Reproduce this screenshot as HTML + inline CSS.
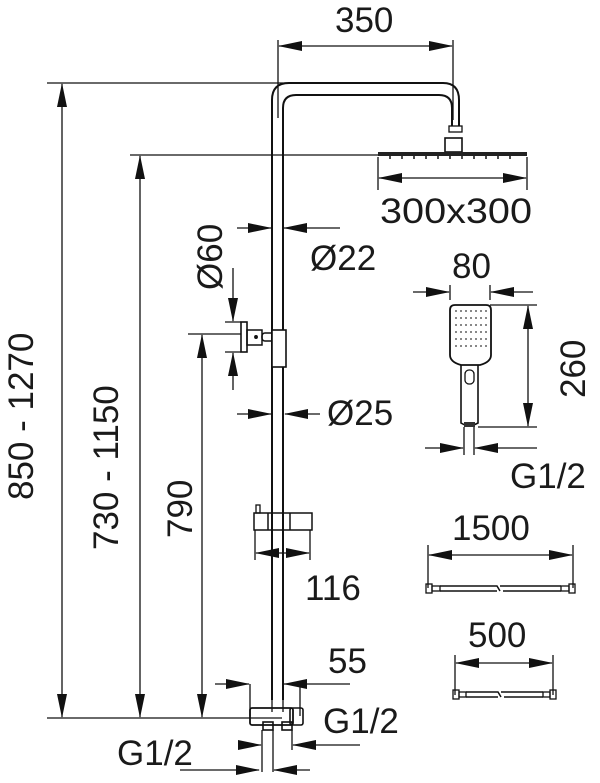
<!DOCTYPE html>
<html><head><style>body{margin:0;background:#fff}svg{display:block}text{font-family:"Liberation Sans",sans-serif;fill:#1a1a1a;font-size:35px}</style></head>
<body>
<svg width="600" height="783" viewBox="0 0 600 783" xmlns="http://www.w3.org/2000/svg">
<defs>
<marker id="a" markerWidth="24" markerHeight="10" refX="23" refY="5" orient="auto" markerUnits="userSpaceOnUse"><path d="M0,0 L24,5 L0,10 Z" fill="#111"/></marker>
</defs>
<g stroke="#111" fill="none" stroke-width="1.3">
<path d="M272,700 V100 Q272,83 289,83 H443 Q459,83 459,100 V126" stroke-width="2"/>
<path d="M283,700 V108 Q283,95 296,95 H439 Q452,95 452,108 V126" stroke-width="2"/>
<rect x="449" y="126" width="13" height="6"/>
<rect x="445" y="138" width="17" height="14" stroke-width="1.6"/>
<rect x="378" y="152" width="149" height="4" fill="#222" stroke="none"/>
<path d="M390,156v3M402,156v3M414,156v3M426,156v3M438,156v3M450,156v3M462,156v3M474,156v3M486,156v3M498,156v3M510,156v3" stroke-width="1.5"/>
<path d="M278,40 V118 M453,40 V120"/>
<path d="M365,46 H279" marker-end="url(#a)"/><path d="M365,46 H452" marker-end="url(#a)"/>
<path d="M378,157 V190 M527,157 V190"/>
<path d="M452,178 H379" marker-end="url(#a)"/><path d="M452,178 H526" marker-end="url(#a)"/>
<path d="M237,228 H271" marker-end="url(#a)"/><path d="M340,228 H284" marker-end="url(#a)"/>
<path d="M47,83 H292 M130,155 H378 M47,718 H282"/>
<path d="M62,400 V84" marker-end="url(#a)"/><path d="M62,400 V717" marker-end="url(#a)"/>
<path d="M140,430 V156" marker-end="url(#a)"/><path d="M140,430 V717" marker-end="url(#a)"/>
<path d="M188,334 H241"/>
<path d="M202,520 V335" marker-end="url(#a)"/><path d="M202,520 V717" marker-end="url(#a)"/>
<rect x="241" y="322" width="6" height="30" stroke-width="1.6"/>
<rect x="247" y="330" width="15" height="15" stroke-width="1.5"/>
<rect x="262" y="333" width="13" height="8" rx="3" stroke-width="1.5"/>
<circle cx="256" cy="337" r="1.3" fill="#111"/>
<rect x="272" y="330" width="14" height="37" fill="#fff" stroke-width="1.6"/>
<path d="M225,322 H241 M225,352 H241"/>
<path d="M233,268 V321" marker-end="url(#a)"/><path d="M233,390 V353" marker-end="url(#a)"/>
<path d="M237,414 H271" marker-end="url(#a)"/><path d="M320,414 H285" marker-end="url(#a)"/>
<rect x="256" y="505" width="4" height="8"/>
<path d="M254,513 H312 V530 H254 Z M268,513 V530 M290,513 V530" stroke-width="1.5"/>
<path d="M255,530 V560 M310,530 V560"/>
<path d="M282,553 H256" marker-end="url(#a)"/><path d="M282,553 H309" marker-end="url(#a)"/>
<path d="M250,684 V716 M283,684 V700 M300,684 V716"/>
<path d="M215,684 H249" marker-end="url(#a)"/><path d="M350,684 H284" marker-end="url(#a)"/>
<path d="M272,700 V712 M283,700 V712"/>
<rect x="250" y="708" width="43" height="17" rx="2" stroke-width="1.8"/>
<rect x="290" y="708" width="13" height="17" rx="2" stroke-width="1.6"/>
<rect x="263" y="722" width="10" height="8" stroke-width="1.6"/>
<rect x="282" y="722" width="10" height="8" stroke-width="1.6"/>
<path d="M262,730 V772 M273,730 V772 M292,730 V750"/>
<path d="M242,745 H261" marker-end="url(#a)"/><path d="M360,745 H293" marker-end="url(#a)"/>
<path d="M180,770 H259" marker-end="url(#a)"/><path d="M310,770 H274" marker-end="url(#a)"/>
<path d="M450,285 V300 M490,285 V300"/>
<path d="M413,292 H449" marker-end="url(#a)"/><path d="M533,292 H491" marker-end="url(#a)"/>
<path d="M455,305 H486 Q491,305 491,310 V355 Q491,362 480,365 H461 Q450,362 450,355 V310 Q450,305 455,305 Z" stroke-width="1.8"/>
<path d="M461,365 V423 Q469,428 478,423 V365" stroke-width="1.6"/>
<rect x="465" y="370" width="9" height="14" rx="4"/>
<g fill="#333" stroke="none">
<circle cx="456" cy="311" r="0.9"/><circle cx="461" cy="311" r="0.9"/><circle cx="466" cy="311" r="0.9"/><circle cx="471" cy="311" r="0.9"/><circle cx="476" cy="311" r="0.9"/><circle cx="481" cy="311" r="0.9"/><circle cx="486" cy="311" r="0.9"/>
<circle cx="456" cy="318" r="0.9"/><circle cx="461" cy="318" r="0.9"/><circle cx="466" cy="318" r="0.9"/><circle cx="471" cy="318" r="0.9"/><circle cx="476" cy="318" r="0.9"/><circle cx="481" cy="318" r="0.9"/><circle cx="486" cy="318" r="0.9"/>
<circle cx="456" cy="325" r="0.9"/><circle cx="461" cy="325" r="0.9"/><circle cx="466" cy="325" r="0.9"/><circle cx="471" cy="325" r="0.9"/><circle cx="476" cy="325" r="0.9"/><circle cx="481" cy="325" r="0.9"/><circle cx="486" cy="325" r="0.9"/>
<circle cx="456" cy="332" r="0.9"/><circle cx="461" cy="332" r="0.9"/><circle cx="466" cy="332" r="0.9"/><circle cx="471" cy="332" r="0.9"/><circle cx="476" cy="332" r="0.9"/><circle cx="481" cy="332" r="0.9"/><circle cx="486" cy="332" r="0.9"/>
<circle cx="456" cy="339" r="0.9"/><circle cx="461" cy="339" r="0.9"/><circle cx="466" cy="339" r="0.9"/><circle cx="471" cy="339" r="0.9"/><circle cx="476" cy="339" r="0.9"/><circle cx="481" cy="339" r="0.9"/><circle cx="486" cy="339" r="0.9"/>
<circle cx="456" cy="346" r="0.9"/><circle cx="461" cy="346" r="0.9"/><circle cx="466" cy="346" r="0.9"/><circle cx="471" cy="346" r="0.9"/><circle cx="476" cy="346" r="0.9"/><circle cx="481" cy="346" r="0.9"/><circle cx="486" cy="346" r="0.9"/>
</g>
<rect x="464" y="422" width="11" height="5" fill="#333" stroke="none"/>
<path d="M490,305 H537 M478,427 H537"/>
<path d="M528,365 V306" marker-end="url(#a)"/><path d="M528,365 V426" marker-end="url(#a)"/>
<path d="M464,427 V455 M474,427 V455"/>
<path d="M425,448 H463" marker-end="url(#a)"/><path d="M537,448 H475" marker-end="url(#a)"/>
<path d="M428,545 V588 M573,545 V588"/>
<path d="M500,555 H429" marker-end="url(#a)"/><path d="M500,555 H572" marker-end="url(#a)"/>
<rect x="426" y="584" width="6" height="9"/><rect x="432" y="586" width="8" height="5"/>
<rect x="569" y="584" width="6" height="9"/><rect x="561" y="586" width="8" height="5"/>
<path d="M440,586 H497 L500,591 M440,591 H497 M500,586 H561 M503,591 H561" stroke-width="1.5"/>
<path d="M455,655 V695 M553,655 V695"/>
<path d="M504,663 H456" marker-end="url(#a)"/><path d="M504,663 H552" marker-end="url(#a)"/>
<rect x="453" y="690" width="6" height="9"/><rect x="459" y="692" width="7" height="5"/>
<rect x="550" y="690" width="6" height="9"/><rect x="543" y="692" width="7" height="5"/>
<path d="M466,692 H498 L501,697 M466,697 H498 M501,692 H543 M504,697 H543" stroke-width="1.5"/>
</g>
<text x="335" y="32">350</text>
<text x="380" y="223" textLength="152" lengthAdjust="spacingAndGlyphs">300x300</text>
<text x="310" y="270">Ø22</text>
<text x="327" y="425">Ø25</text>
<text x="305" y="600">116</text>
<text x="328" y="673">55</text>
<text x="323" y="733">G1/2</text>
<text x="117" y="765">G1/2</text>
<text x="452" y="278">80</text>
<text x="510" y="488">G1/2</text>
<text x="452" y="540">1500</text>
<text x="468" y="647">500</text>
<text transform="translate(33,500) rotate(-90)">850 - 1270</text>
<text transform="translate(118,550) rotate(-90)">730 - 1150</text>
<text transform="translate(192,538) rotate(-90)">790</text>
<text transform="translate(222,290) rotate(-90)">Ø60</text>
<text transform="translate(585,398) rotate(-90)">260</text>
</svg>
</body></html>
